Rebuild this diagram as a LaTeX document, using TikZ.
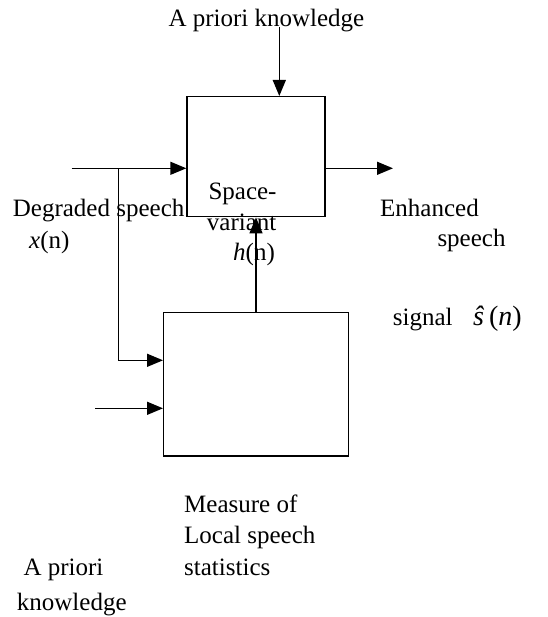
\documentclass[tikz,border=0pt]{standalone}
\usepackage{fontspec}
\setmainfont{Liberation Serif}
\usetikzlibrary{arrows.meta}
\begin{document}
\begin{tikzpicture}[x=1pt,y=-1pt,
  blk/.style={draw,line width=1.4pt,inner sep=0pt},
  lbl/.style={anchor=base west,inner sep=0pt,font=\fontsize{25}{30}\selectfont},
  arr/.style={line width=1.4pt,-{Triangle[length=16pt,width=13pt]}},
  wire/.style={line width=1.4pt}]
\useasboundingbox (0,0) rectangle (547,617);
% boxes
\node[blk,minimum width=138pt,minimum height=120pt] (filter) at (256,156.7) {};
\node[blk,minimum width=184.6pt,minimum height=143.7pt] (stats) at (256,384.2) {};
% labels
\node[lbl] (t1) at (168.3,26.7) {A priori knowledge};
\node[lbl] (t2) at (12.7,216.7) {Degraded speech};
\node[lbl] (t3) at (29,248) {\textit{x}(n)};
\node[lbl] (t4) at (208.3,200) {Space-};
\node[lbl] (t5) at (206.7,230) {variant};
\node[lbl] (t6) at (233,260) {\textit{h}(n)};
\node[lbl] (t7) at (380,216.7) {Enhanced};
\node[lbl] (t8) at (437.3,246.7) {speech};
\node[lbl] (t9) at (392.7,325) {signal};
\node[lbl,font=\fontsize{28}{32}\selectfont] (t10) at (473,325) {\textit{ŝ}\,(\textit{n})};
\node[lbl] (t11) at (184,512.3) {Measure of};
\node[lbl] (t12) at (184,543.3) {Local speech};
\node[lbl] (t13) at (184,575) {statistics};
\node[lbl] (t14) at (23.3,575) {A priori};
\node[lbl] (t15) at (16.7,610) {knowledge};
% connectors
\coordinate (apk) at (279.3,27);
\draw[arr] (apk) -- (apk |- filter.north);
\coordinate (in) at (71.7,168.3);
\draw[arr] (in) -- (in -| filter.west);
\coordinate (out) at (393,168.3);
\draw[arr] (out -| filter.east) -- (out);
\coordinate (br) at (118.3,168.3);
\coordinate (bc) at (118.3,360.3);
\draw[arr] (br) -- (bc) -- (bc -| stats.west);
\coordinate (in2) at (95,408.3);
\draw[arr] (in2) -- (in2 -| stats.west);
\draw[arr] (stats.north) -- (filter.south);
\end{tikzpicture}
\end{document}
